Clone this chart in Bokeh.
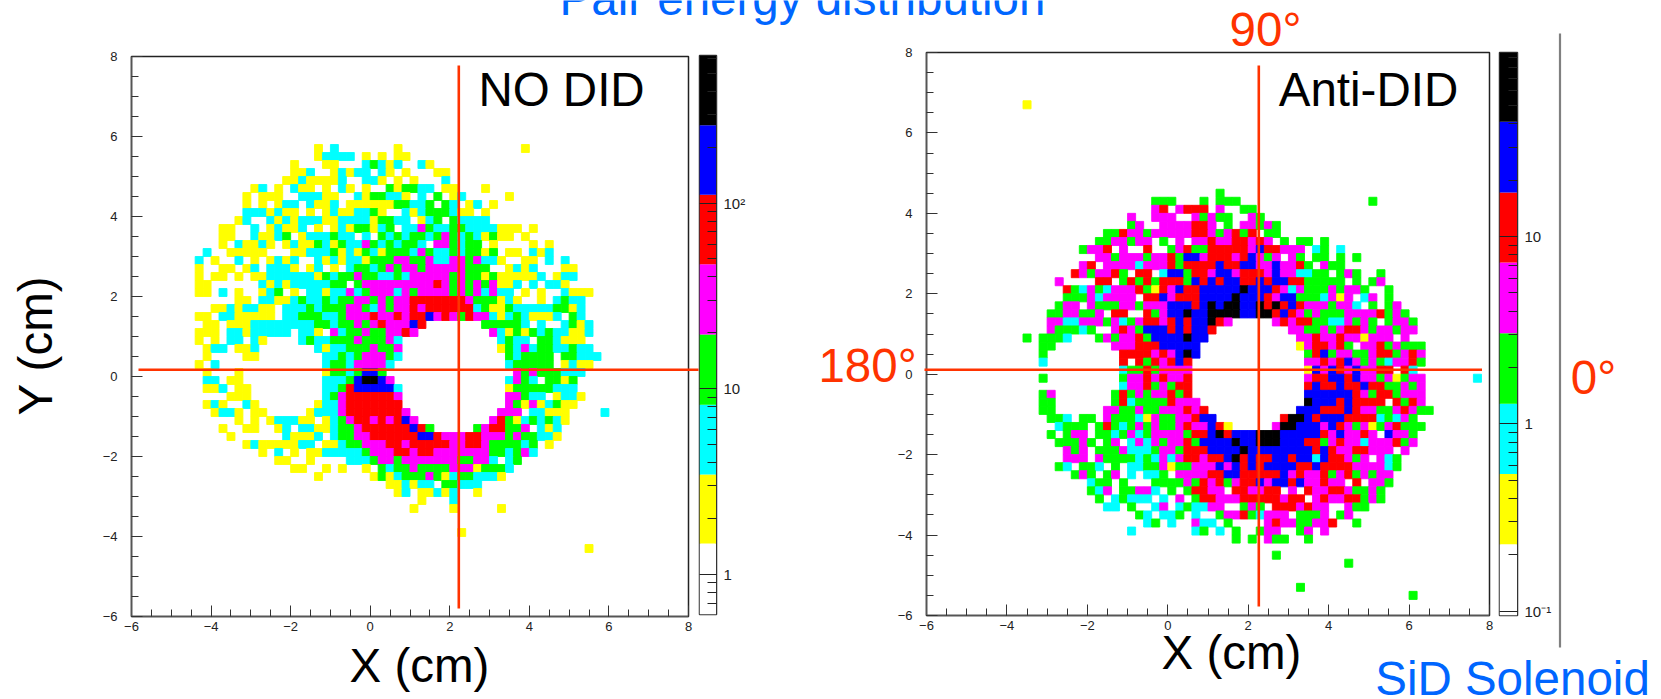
import math
from bokeh.core.properties import value
from bokeh.embed import file_html
from bokeh.layouts import column
from bokeh.models import ColumnDataSource, Range1d, SingleIntervalTicker, LogTicker
from bokeh.plotting import figure
from bokeh.resources import INLINE

# Histogram: 70 x 70 bins of 0.2 cm from -6 to 8 cm.  Each row (counted from the top) lists
# "first-last:level" runs of colour levels.
BIN = 0.2
X_MIN, X_MAX, Y_MIN, Y_MAX = -6, 8, -6, 8
LEVEL_COLORS = ["#ffffff", "#ffff00", "#00ffff", "#00ff00", "#ff00ff", "#ff0000", "#0000ff", "#000000"]

NO_DID_ROWS = {
11: "23:1 25:2 33:1 49:1",
12: "23:1 24-27:2 29:1 31:1 33-34:1",
13: "20:1 24-25:1 29:2 30:3 31:2 32:1 33:2 36:2 37:1",
14: "20-21:1 22:2 25:1 26:2 27:1 28-29:2 31:2 32:1 34:1 38-39:1",
15: "19-20:1 21:2 22-25:1 26:2 29-30:2 31:1 33:1 35:1 39:2",
16: "15:1 16:2 18:1 20:2 21-22:1 24:1 26:2 27:1 29:1 32:3 33:1 34-35:3 36-37:2 39-40:1 44:1",
17: "14:1 16-18:1 21-23:2 24-25:1 28:2 29:1 30-31:3 32-33:2 34:1 36:2 38:3 40:1 41:2 47:1",
18: "14:1 16:1 18:1 19-20:2 22:2 23-24:1 25:2 27-32:1 33-34:3 35-36:2 37:3 39:3 40:2 42:1 43:2 45:1",
19: "14-16:2 17:1 18:2 19-20:1 22:1 24:1 25:2 26-27:1 28-29:2 30:3 31:1 34:2 35:1 36:2 37-39:3 40:2 41-42:1 44:1",
20: "13:1 14:2 17:2 18:1 19:2 20:1 21-23:2 24-25:1 26-29:2 30:1 31-32:3 33-34:2 36:1 37:2 38:3 40:3 41-44:2",
21: "11-12:1 15:2 17:1 18:2 19-20:1 21:2 23:1 25:1 26:2 27:1 28-29:3 30:1 31:2 32:3 34-35:2 36:4 37:3 38-39:2 40-41:3 42-45:2 46-48:1 50:1",
22: "11-12:1 15:2 16-17:1 18:2 19:3 21:1 22-24:2 25:3 26-27:2 29:2 31:3 32:2 33:3 34:2 35-36:3 37:2 38:3 39:4 40:3 41:2 42:3 43:2 44:1 45:3 46-47:1 49:1",
23: "11:1 13:2 14-15:1 16:2 17:1 19:1 20:2 21-22:1 23:3 24:2 25:1 26:3 27-28:2 29:4 30:3 31:2 32:3 33:2 34-35:3 36:2 38-39:4 40:3 41:2 42-43:3 45:1 50:1 52:1",
24: "9:2 12-16:1 20-21:1 22-24:2 25:3 26:1 27:2 28:1 29:3 30:2 31:1 32-34:3 35:2 36:4 37:3 38-39:2 40:3 41:2 42-43:3 44:1 45:3 47-48:1 50:2 51:1 52:2",
25: "8:2 10:1 13:2 15:1 17:1 18:2 19:1 20:2 23:2 24:1 25:2 26:1 27-28:2 29:1 30-32:3 33-34:4 35-36:3 37:4 38-39:2 40-41:4 42:3 43:4 44-45:2 46:1 49-50:1 52:2 54:2",
26: "8:1 11-12:1 14:1 15:2 17-19:2 20:1 22:1 23:2 25:1 27:2 28-29:3 30:2 31:3 32:4 33:3 34-35:4 36:3 37-41:4 42-44:3 47:1 48:2 49:1 50:2 54-55:1",
27: "8:1 10-11:1 13:1 15-16:1 17-22:2 23:1 24:3 25:2 26-27:3 28:4 29-30:3 31-32:2 33:3 34:2 35-39:4 40:3 41:4 42-43:3 44:1 45:3 46-50:1 51:2 53:1 54-55:2",
28: "8-9:1 16:2 17:1 18:2 19:1 20-24:2 25-26:3 28:3 29-37:4 38:5 39:4 40:3 41:4 42:3 43:4 44:3 45:4 46-47:1 48:2 50:2 52-53:2 54:1",
29: "8-9:1 11:2 13:1 16:1 17:2 18:3 20:1 22-23:2 24:1 25-26:2 27:4 28:2 29:3 30-32:4 33:2 34:4 35:3 36-39:4 40:3 41:4 42:3 43:4 44:2 45:4 46-47:2 49:1 51:1 54:2 55-57:1",
30: "13-14:1 16-17:2 18-19:1 20:2 21:3 22-23:2 24:3 25:2 26-27:3 28-29:4 30:3 31:4 32:3 33-34:4 35-41:5 42:4 43-45:3 46:1 47:2 48:1 51:1 53:2 54:3 55-56:2",
31: "10-11:1 12:2 13:1 14-15:2 16-17:1 19-21:2 22:3 23:2 24-26:3 27-28:4 29:3 30:2 31:4 32:3 33-34:4 35:5 36:4 37-42:5 43:2 44:3 45-46:1 47:3 48-52:2 53-54:3 55:1 56:2",
32: "8-9:1 11-12:2 13-17:1 19-20:2 21-23:3 24-25:2 26:3 27-29:4 30:5 31-32:4 33:5 34:4 35-36:5 37:6 38:4 39:5 40:4 41:3 42:5 43-44:4 45:2 46:1 47:2 48:3 49:2 50-52:1 53:2 55:3 56:2",
33: "9-10:1 12-14:1 15-22:2 23-24:3 25:2 26-27:3 28:4 29:3 30:4 31:5 32-34:4 35:6 36:5 44-48:3 49:2 51:2 54:2 55:3 56:1 57:2",
34: "8-10:1 12-13:2 14:1 15-19:2 21-22:2 23:1 25:4 26:2 27-28:3 29:4 30-31:3 32-33:4 34:5 35:4 45:4 46:2 47:1 48:3 49:1 50:3 51:2 52:3 53-54:2 55-56:1 57:2",
35: "8:1 10:1 12-13:2 15:2 16:1 21:2 22:3 23-24:2 25-27:3 28:4 29-31:3 32:4 33:2 46:2 47:3 48-49:2 51-52:3 53:2 54-56:1",
36: "9:1 10-11:2 13-14:1 15:2 23:2 24:1 25-26:2 27-29:3 30:4 31-32:3 33:4 46:1 47:3 48:2 49:4 50:2 51-52:3 53-54:2 55:3 56-57:2",
37: "9:1 14-15:1 24-25:2 26:3 27:2 28:3 29-31:4 32:3 33:2 47:3 48:2 49-52:3 54-55:3 56-58:2",
38: "8:1 10:2 24:2 25-26:3 27:2 28-31:4 32:2 47:2 48-52:3 54:1 55:2 56-57:1",
39: "9:1 13:1 24:1 25-26:3 27:2 28:3 29-30:6 31:3 48:4 49:3 50:4 51-53:3 54-56:2",
40: "9-10:2 12-13:1 24-26:2 27:3 28:6 29-30:7 31:6 32:4 47:2 48:4 49:3 50:2 52-53:3 54:1 55:3",
41: "9-10:1 11:2 13-14:1 24-25:2 26:3 27:5 28-32:6 33:2 47:1 48-52:3 53-55:2",
42: "12-14:1 24:2 25:3 26:4 27-32:5 33:4 47-48:4 49:3 50-51:2 53:1 54-55:2 56:1",
43: "9:1 10:2 11:1 14:2 15:1 23:1 24-25:2 26:4 27-33:5 47:4 48:3 49:1 50:4 51:1 52:2 53:3 54-55:1",
44: "10:1 11-12:2 13:1 15-16:1 22:1 23-25:2 26:4 27-33:5 34:4 46-48:4 50-51:2 52-54:1 59:2",
45: "13:1 15:1 17:1 18-20:2 21-22:1 24:1 25:2 26:3 27:4 28-29:5 30:4 31:5 32:4 33:5 34:6 35:4 45:4 46:5 47:3 48:1 49:2 50:3 51:2 52:3 53:2 54:1",
46: "11:1 14-15:1 18:1 19:2 21-22:2 23-24:1 25:2 26-27:3 28:4 29-34:5 35:6 36:5 37:3 43:3 44:4 45-46:5 47-48:3 49:4 51:2 52:1 53:2",
47: "12:1 19:2 20-22:1 23:2 25:2 26-27:3 28-29:4 30-35:5 36-37:6 38:5 39-41:4 42-43:5 44-46:4 47:3 48:4 49-50:3 51-52:2 53:1",
48: "14:1 15:2 16-20:1 21-22:2 24-25:1 26:2 27-28:3 29-31:4 32-33:5 34:4 35-39:5 40-41:4 42-43:5 44:4 45-48:3 49:2 50:3 52:1",
49: "16:1 18:2 20:1 22-23:1 24-28:2 29:3 30-32:4 33-34:5 35:4 36-37:5 38-44:4 45-46:3 47:2 48:3 49:4 50:2",
50: "18-19:1 22:1 27-29:2 30:3 31-32:4 33:3 34-40:4 41-42:3 43-44:4 45:2 47:2 48:3",
51: "20-21:1 24:1 26:1 29:1 31:3 32:2 33-34:3 35:4 36-39:3 40-42:4 43:1 44-46:3 47:2",
52: "23:1 30:1 31:3 32:1 33:2 34-36:3 37:4 38:3 39:1 40:2 41-42:3 43-45:2 46:1",
53: "32-33:1 34:2 35:1 36-37:2 39-40:3 41-43:2",
54: "33:1 34:2 36-37:1 38:2 39:1 40:2 43:1",
55: "36:1 40:2",
56: "35:1 40:1 46:1",
59: "41:1",
61: "57:1",
}

ANTI_DID_ROWS = {
6: "12:1",
17: "36:3",
18: "28-30:3 34:3 36-38:3 55:3",
19: "28:4 29:5 31:4 32-34:5 36:4 39-40:3",
20: "25:4 28-30:4 33:4 34:3 35:4 36-37:3 40:4 41:3",
21: "25:3 26:4 29-32:4 33-34:5 35:4 37:3 39-40:4 41:3 42:4 43:3",
22: "22-23:3 24:5 25-26:4 27:3 28-32:4 33-34:5 35:4 36:3 37:4 38:5 39:3 40:5 42-43:3",
23: "21-22:3 23-24:4 25:3 26-27:4 29:3 31:4 33-34:4 35:5 36-37:4 38-39:5 40:4 41:5 42:4 44:3 46-47:3 49:3",
24: "19:3 20-21:4 22:5 24:4 27:5 30:3 31:4 32:5 33-34:3 35-39:5 40:4 41:6 42-43:5 44-46:4 48:2 49:3 51:2",
25: "21-22:4 23:3 24-26:4 27:3 28-29:4 30:5 31:3 32-33:6 34:4 35-37:5 38:4 39:5 40:6 41:4 42:3 43:4 45:4 46:3 48-49:3 51:3 53:3",
26: "19:4 20:5 22-25:4 26:2 27-29:4 30:5 31:3 32-35:5 36:6 37-38:5 39-40:6 41:4 42:4 43:6 44-45:4 46:5 47:3 49:4 50-51:3",
27: "18:5 19:4 20:3 21-22:4 23:5 24:3 26-27:5 29:2 30-31:6 32:3 33-34:5 35:4 36-37:6 38:4 39-41:5 42:4 43:6 44-45:4 46-47:2 48-49:3 51:3 52:4 53:3 56:3",
28: "16:4 21-22:5 24:3 25:5 26:3 27:5 28:3 29-31:5 32:3 33:6 34:5 35:6 36:5 37-38:6 39-40:5 41:6 42:5 43-44:6 45-46:5 47-51:3 53:3 55:3 56:4",
29: "17:5 18:3 19:2 20:4 21:3 22:2 23-25:4 26:5 27:3 28:1 29:5 30:4 31:6 32-33:5 34-38:6 39:7 40-42:6 43:5 44:4 45:2 46:4 47-49:3 50:4 51:3 52-53:4 54:3 57:3",
30: "17-19:3 20:4 21:2 22-25:4 27-28:5 29:6 30:4 31-33:5 34-37:6 38:7 39-41:6 42:5 43:4 44-45:6 46-48:3 49:2 50:4 51:1 52:4 54:2 55:4 57:3",
31: "16:3 17-18:4 20:4 21-23:3 24-25:4 26:3 27-29:4 30-32:6 33:5 34:6 35:7 36:6 37-38:7 39-40:6 41:7 42:5 43:7 44:5 45:6 46:5 47-49:4 50:3 51-52:4 53:2 55:3 57:3 58:4",
32: "15-16:3 17-18:4 19-20:3 21:4 23-24:5 27:5 28:3 29:4 30-31:6 32:7 33-34:6 35-38:7 39-40:6 41-42:7 43:5 44:6 45:5 46:4 47:3 48:4 49-51:3 52-55:4 56:5 57:3 58:4 59:3",
33: "15-16:4 17-18:2 19-21:4 22:3 23:4 24:2 25:3 26:4 27-28:5 29:4 30:5 31:6 32:5 33-34:6 35:7 36:5 37:4 43:4 44:5 45:4 46-47:5 48-49:3 50-51:2 52:4 53:3 54:4 55:3 57:3 58-59:4 60:3",
34: "15:4 16-18:3 19:2 20:3 23:4 24:5 25:4 26:3 27-29:6 30:5 31:6 32:5 33-34:6 35:5 45-46:4 47-48:3 49:4 50:3 51:4 52-53:5 54:4 55:3 56-57:4 58:3 59-60:4",
35: "12:3 14-16:3 17:2 21:3 22:4 23:3 24-25:4 26:5 27:3 28-31:6 32:7 33-34:6 46-47:4 48:5 49-50:4 51:5 52-53:4 54:1 55-57:4 59:4",
36: "14-15:3 23-25:4 26-28:5 29-33:6 46:1 47:4 48-49:5 50:4 51:5 52:3 54-55:4 56:5 57:3 58:4 59-61:3",
37: "14:3 24-27:5 28:4 29:5 30:4 31:6 32:7 33:6 47:3 48:5 49:6 50:3 51-52:4 53-54:3 55:4 56-57:5 58:3 59:4 60:5 61:4",
38: "14:2 24:5 26:5 27:3 28:5 29:4 30:5 31:6 32:5 47-48:4 49:5 50:4 51:5 52:6 53:4 54:3 55:4 56:3 57:2 58-59:4 60:5 61:3",
39: "24:2 25-26:3 27:5 28:3 29-32:4 47:1 48:6 49:4 50:6 51:5 52:4 53:6 54-55:4 56-57:5 59:5 60:2",
40: "14:3 24:3 25-26:4 27:5 28:4 29:5 30-31:4 32:5 47:4 48-49:5 50-51:6 52:5 53:6 54-55:4 56:3 57:4 58:1 59:3 60-61:4 68:2",
41: "24:2 25-26:4 27:5 28:3 29:4 30:3 31-32:5 47:5 48:6 49-50:5 51:6 52-53:5 54:6 55-56:5 57-58:3 59:4 60:3 61:4",
42: "14:3 15:4 23:3 24:5 25:3 26:4 27:3 28-29:4 30:5 31:3 32:5 47-52:6 53:5 54:4 55:3 56-57:5 58:3 59-61:4",
43: "14-15:3 23:3 24:5 25:2 26-29:3 30:5 31-33:4 47:7 48-50:6 51:5 52:6 53-56:5 58:5 59:3 60:5 61:4",
44: "14-15:3 22-23:4 24-25:3 26:4 27-28:3 29-31:4 32:5 33:4 34:5 46-48:6 49-51:5 52:6 53:5 54-55:4 56-57:3 58:4 59:5 60:4 61-62:3",
45: "15-16:3 17:2 19-20:3 22:4 23-25:3 26:2 27:1 28:4 29-30:3 31-32:4 33:5 34-35:6 44:5 45-46:7 47:6 48:5 49-51:6 52-55:5 56:2 57:3 58:2 59:4 60:3",
46: "16:2 17-19:3 21:3 22:5 23:3 24:2 25:3 26:4 27:3 28:4 29-30:3 31:4 32:5 33-34:4 35:6 36:5 37:1 43:4 44-45:7 46-48:6 49:4 50:6 51:5 52:4 53:3 54:4 55:1 56:3 57:4 58:5 59-61:3",
47: "15:3 17:3 18-19:4 21-22:3 23:2 24:3 25:4 26:2 27:3 28-31:4 32:3 33-34:5 35:6 36:7 37:5 38-40:6 41-43:7 44-48:6 49:5 50:4 51:6 52-53:4 54:5 55:4 57:6 58-59:4 60:3",
48: "16-18:3 19:4 20:3 22:3 23:4 25:2 26:4 27:2 28:4 29:3 30-31:4 32:5 33:3 34-37:6 38:7 39-40:6 41-43:7 44-46:6 47-48:5 49:3 50:4 51:5 52-53:4 54:2 55-57:4 58:5 59:3 60:4",
49: "17:4 18:3 19:4 21-23:3 24:4 25-27:2 28:3 29-30:4 31:3 32-34:5 35-38:6 39:7 40-47:6 48:5 49:6 50:5 51-52:4 53-54:5 55-57:4 59:4",
50: "17-19:4 21:4 22-25:3 26:2 27:3 28:2 29:4 30:2 31:4 32-33:5 34:4 35-36:5 37:6 38:7 39:5 40:6 41-42:5 43-44:6 45:5 46-47:6 48:2 49:6 50-51:5 52:4 53:3 54:4 56:4 57:2 58:3",
51: "16:3 17:2 19-20:3 21:2 23:3 25-26:2 27-28:3 29:4 30:1 31-32:3 33-35:4 36:6 37:4 38:6 39:5 40:6 41:5 42-45:6 46-47:5 48:6 49-52:5 53-56:4 57:2 58:3",
52: "18:3 19:4 20:3 22:3 23:4 25:2 27-28:2 29:3 31-34:4 35-36:5 37-38:6 39-43:5 44:6 45:4 46:5 47-48:4 49:5 50:3 51:4 52:5 53:3 54:4 55:3 56-57:4",
53: "20:2 21-22:3 24:3 28-31:3 32:4 33:3 34:5 35:4 36:5 37:3 38:4 39-40:5 41:6 42:4 43-44:6 45:5 46:6 47-48:4 49:5 50-51:4 53:5 55-56:4 57:3",
54: "20:3 21:2 22:4 24-25:3 26-27:4 28:2 30:3 32:3 33-34:5 35-36:4 38-39:5 40-41:4 42-43:5 45:4 47:5 48-49:4 50-51:5 52:4 53-54:3 55:4 56:3",
55: "21:3 23:2 24:3 25-27:2 29:2 31:4 33:3 34-35:5 36-38:4 39-43:5 44:4 45-46:5 48:4 49:5 50-51:4 52-53:5 54:3 55:4 56:3",
56: "22-23:2 25:3 28:2 29:4 31:2 32:3 33-34:2 35-36:4 39:3 40:4 41:3 43-45:5 46:4 47:5 48-49:4 52:4 53-54:3",
57: "26:3 27:2 29-30:2 31:3 33:2 36:3 37-38:4 39:5 40:3 41:2 42-44:4 46-48:3 49:4 51:3 52:4",
58: "27:2 28:3 30:2 33:4 34-35:2 37:3 42:4 43:5 44-45:4 46-47:3 48-49:4 50:5 53:3",
59: "25:2 33:2 34:3 36:2 38:3 41:3 42-43:4 46:3 47:4 49:4",
60: "38:3 40:3 42:4 43-44:3 47:3",
62: "43:3",
63: "52:3",
66: "46:3",
67: "60:3",
}

X_TITLE, Y_TITLE = "X (cm)", "Y (cm)"
# Colour-band limits of the two palettes, read on their log scales, from bottom to top
NO_DID_BANDS = [0.609, 1.47, 3.46, 8.2, 19.6, 46.8, 111, 262, 623]
ANTI_DID_BANDS = [0.095, 0.228, 0.54, 1.28, 3.05, 7.26, 17.2, 41, 96]
NO_DID_LABELS = {100: "10²", 10: "10", 1: "1"}
ANTI_DID_LABELS = {10: "10", 1: "1", 0.1: "10⁻¹"}

FONT = "Liberation Sans"
RED = "#ff3300"
BLUE = "#0066ff"
DARK = "#333333"
LEFT_GUTTER = 50


def place(fig, left, top):
    # window coordinates of the figure's canvas; the parent column starts LEFT_GUTTER left of the window
    fig.styles = {"position": "absolute", "left": f"{left + LEFT_GUTTER}px", "top": f"{top}px"}
    return fig


def decode(rows):
    cells = {}
    for row, text in rows.items():
        for token in text.split():
            span, level = token.split(":")
            first, _, last = span.partition("-")
            for col in range(int(first), int(last or first) + 1):
                cells[(row, col)] = int(level)
    left, right, top, bottom, color = [], [], [], [], []
    for (row, col), level in cells.items():
        left.append(X_MIN + col * BIN)
        right.append(X_MIN + (col + 1) * BIN)
        top.append(Y_MAX - row * BIN)
        bottom.append(Y_MAX - (row + 1) * BIN)
        color.append(LEVEL_COLORS[level])
    return ColumnDataSource(dict(left=left, right=right, top=top, bottom=bottom, color=color))


def panel(rows, left, top, fw, fh):
    p = figure(frame_width=fw, frame_height=fh, min_border_left=LEFT_GUTTER, min_border_right=6,
               min_border_top=8, min_border_bottom=30, output_backend="svg", toolbar_location=None,
               x_range=Range1d(X_MIN, X_MAX), y_range=Range1d(Y_MIN, Y_MAX),
               outline_line_color="#222222", outline_line_width=1.5, border_fill_alpha=0)
    p.grid.visible = False
    p.quad(left="left", right="right", top="top", bottom="bottom", source=decode(rows),
           fill_color="color", line_color="color", line_width=0.9)
    for ax in (p.xaxis[0], p.yaxis[0]):
        ax.ticker = SingleIntervalTicker(interval=2, num_minor_ticks=4)
        ax.major_tick_in, ax.major_tick_out = 11, 0
        ax.minor_tick_in, ax.minor_tick_out = 7, 0
        ax.axis_line_color = "#555555"
        ax.axis_line_width = 1.5
        ax.major_tick_line_color = DARK
        ax.minor_tick_line_color = DARK
        ax.major_label_text_font = FONT
        ax.major_label_text_font_size = "13px"
        ax.major_label_text_color = "#222222"
    p.xaxis[0].major_label_standoff = 5
    p.yaxis[0].major_label_standoff = 14
    return place(p, left - LEFT_GUTTER, top - 8)


def colorbar(bands, labels, left, top, fw, fh):
    p = figure(frame_width=fw, frame_height=fh, min_border_left=LEFT_GUTTER, min_border_right=42,
               min_border_top=4, min_border_bottom=4, output_backend="svg", toolbar_location=None,
               y_axis_type="log", y_axis_location="right", x_axis_location=None,
               x_range=Range1d(0, 1), y_range=Range1d(bands[0], bands[-1]),
               outline_line_color=DARK, outline_line_width=1.5, border_fill_alpha=0,
               background_fill_alpha=0)
    p.grid.visible = False
    n = len(bands) - 1
    p.quad(left=[0] * n, right=[1] * n, bottom=bands[:-1], top=bands[1:],
           fill_color=LEVEL_COLORS, line_color=None)
    ax = p.yaxis[0]
    ax.ticker = LogTicker(num_minor_ticks=10)
    ax.major_label_overrides = labels
    ax.axis_line_color = DARK
    ax.major_tick_in, ax.major_tick_out = fw, 0
    ax.minor_tick_in, ax.minor_tick_out = 9, 0
    ax.major_tick_line_color = "#222222"
    ax.minor_tick_line_color = "#222222"
    ax.major_label_standoff = 7
    ax.major_label_text_font = FONT
    ax.major_label_text_font_size = "15px"
    ax.major_label_text_color = "#222222"
    return place(p, left - LEFT_GUTTER, top - 4)


p1 = panel(NO_DID_ROWS, 131, 56, 557, 560)
cb1 = colorbar(NO_DID_BANDS, NO_DID_LABELS, 699, 55, 17, 559)
p2 = panel(ANTI_DID_ROWS, 926, 52, 563, 563)
cb2 = colorbar(ANTI_DID_BANDS, ANTI_DID_LABELS, 1499, 52, 18, 563)

# Overlay in page pixels for the slide annotations on top of the plots
ov = figure(frame_width=1661, frame_height=699, x_range=Range1d(0, 1661), y_range=Range1d(699, 0),
            x_axis_location=None, y_axis_location=None, output_backend="svg", toolbar_location=None,
            min_border_left=LEFT_GUTTER, min_border_right=0, min_border_top=0, min_border_bottom=0,
            outline_line_color=None, background_fill_alpha=0, border_fill_alpha=0)
ov.grid.visible = False
place(ov, -LEFT_GUTTER, 0)

ov.segment(x0=[138, 458.3, 924, 1258.3], y0=[369.3, 65, 369.3, 65],
           x1=[698, 458.3, 1481.5, 1258.3], y1=[369.3, 608, 369.3, 606],
           line_color=RED, line_width=2.6)
ov.segment(x0=[1559.5], y0=[33], x1=[1559.5], y1=[647], line_color="#808080", line_width=2.2)

def note(text, x, y, color, size="47.5px", angle=0.0, baseline="middle"):
    ov.text(x=[x], y=[y], text=[text], text_color=color, text_font=value(FONT), text_font_size=size,
            text_align="center", text_baseline=baseline, angle=[angle])

note("Pair energy distribution", 802, -2, BLUE, baseline="alphabetic")
note("NO DID", 561, 89, "#000000")
note("Anti-DID", 1368, 89, "#000000")
note(X_TITLE, 419, 665, "#000000")
note(X_TITLE, 1231, 652, "#000000")
note(Y_TITLE, 35, 345, "#000000", angle=math.pi / 2)
note("90°", 1265, 29, RED)
note("180°", 867, 365, RED)
note("0°", 1593, 377, RED)
note("SiD Solenoid", 1512, 678, BLUE)

page = column(p1, cb1, p2, cb2, ov, width=1711, height=699, margin=(0, 0, 0, -LEFT_GUTTER))
open("out.html", "w").write(file_html(page, INLINE))
